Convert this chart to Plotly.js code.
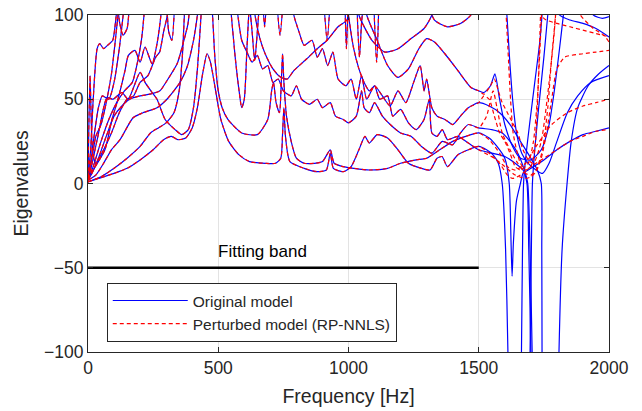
<!DOCTYPE html>
<html><head><meta charset="utf-8">
<script src="https://cdn.plot.ly/plotly-3.0.1.min.js"></script>
<style>html,body{margin:0;padding:0;background:#fff}#chart{width:642px;height:411px}</style>
</head><body><div id="chart"></div>
<script>
// ---- data: [frequency Hz, eigenvalue] pairs ----
const c1 = [[0,1],[40,3],[100,6],[150,9],[200,14],[250,20],[290,26],[320,28],[345,26],[375,27],[400,33],[420,45],[440,65],[457,77],[470,72],[490,55],[510,38],[540,25],[580,17],[620,13],[680,12],[720,12],[740,15],[747,30],[752,45],[758,28],[775,13],[830,9],[880,7],[915,8],[930,18],[942,9],[980,7],[1010,10],[1040,20],[1063,28],[1080,24],[1110,29],[1150,27],[1190,20],[1230,12],[1280,9],[1313,8],[1340,15],[1359,16],[1380,10],[1420,17],[1460,20],[1500,22]];
const c2 = [[0,3],[10,8],[38,28],[73,51],[96,50],[130,54],[154,50],[200,66],[219,60],[246,54],[265,50],[296,38],[334,32],[360,29],[385,32],[405,45],[420,68],[432,95],[440,115]];
const c3 = [[470,115],[478,100],[487,75],[500,55],[515,45],[537,38],[590,30],[650,29],[690,38],[705,55],[712,60],[722,48],[735,42],[742,60],[747,77],[752,60],[762,40],[780,25],[800,15],[830,12],[870,12],[900,13],[930,20],[945,12],[980,10],[1020,9],[1080,8],[1150,9],[1200,12],[1260,14],[1300,15],[1350,20],[1400,25],[1450,28],[1500,30]];
const c4 = [[540,115],[550,100],[565,75],[580,55],[590,45],[600,50],[610,80],[617,100],[625,115]];
const c5 = [[635,115],[641,100],[660,86],[680,77],[710,68],[740,63],[765,62],[790,67],[840,74],[880,80],[918,85],[960,93],[994,97],[1010,115]];
const c6 = [[0,3],[10,20],[20,50],[35,80],[45,83],[60,80],[75,82],[95,85],[105,95],[118,115]];
const c7 = [[0,3],[20,8],[65,20],[92,38],[115,50],[142,67],[155,76],[180,79],[200,72],[219,81],[246,71],[265,83],[280,100],[288,115]];
const c8 = [[0,3],[4,40],[8,64],[12,40],[18,18],[30,12],[60,20],[90,30],[120,42],[150,50],[175,52],[200,60],[230,64],[260,75],[275,78],[290,90],[305,100],[315,115]];
const c9 = [[0,2],[15,6],[40,15],[70,28],[100,40],[130,46],[160,50],[200,52],[238,53],[276,55],[303,61],[342,71],[365,83],[384,95],[395,115]];
const c10 = [[0,2],[30,5],[60,12],[90,20],[123,26],[173,39],[211,42],[265,45],[303,50],[353,60],[380,69],[405,85],[420,100],[430,115]];
const c11 = [[0,2],[10,12],[25,30],[40,45],[55,52],[80,50],[100,60],[120,80],[135,100],[145,115]];
const c12 = [[0,4],[15,15],[30,28],[50,35],[70,48],[90,65],[105,85],[115,100],[122,115]];
const c13 = [[108,115],[122,95],[135,88],[150,92],[162,115]];
const c14 = [[300,115],[310,90],[322,85],[335,115]];
const c15 = [[0,2],[20,10],[50,25],[80,38],[110,48],[140,55],[170,60],[190,72],[205,85],[215,100],[222,115]];
const c16 = [[0,1],[50,4],[100,9],[150,15],[200,22],[240,30],[270,33],[300,36],[330,42],[350,55],[362,75],[370,100],[375,115]];
const d1 = [[615,115],[630,90],[640,73],[650,90],[662,115]];
const d2 = [[668,115],[678,93],[688,115]];
const d3 = [[722,115],[737,88],[752,115]];
const d4 = [[902,115],[918,85],[932,115]];
const d5 = [[985,115],[992,80],[1000,115]];
const d6 = [[1030,115],[1042,75],[1050,95],[1062,115]];
const d7 = [[1095,115],[1108,72],[1118,115]];
const m1 = [[560,115],[575,100],[590,85],[610,78],[630,72],[650,76],[670,68],[690,70],[710,60],[730,62],[750,55],[780,52],[800,58],[820,50],[850,47],[880,50],[900,45],[930,48],[950,40],[980,38],[1000,36],[1030,40],[1050,55],[1060,45],[1080,42],[1100,48],[1130,40],[1160,35],[1200,30],[1240,28],[1280,22],[1320,18],[1360,25],[1400,23],[1430,30],[1460,35],[1500,33]];
const m2 = [[780,115],[790,100],[810,90],[830,82],[860,85],[880,75],[900,80],[920,70],[940,78],[960,62],[990,58],[1010,62],[1030,50],[1050,64],[1070,50],[1100,58],[1130,52],[1160,46],[1190,55],[1220,48],[1250,60],[1275,70],[1290,55],[1300,62],[1320,45],[1340,40],[1370,38],[1400,35],[1430,40],[1460,45],[1500,48]];
const m3 = [[990,115],[1000,100],[1020,80],[1040,68],[1060,60],[1080,55],[1100,58],[1120,50],[1150,52],[1170,40],[1200,44],[1230,36],[1260,32],[1290,38],[1310,50],[1320,30],[1340,28],[1360,32],[1380,26],[1420,28],[1460,24],[1500,20]];
const uA = [[1030,115],[1040,100],[1090,85],[1140,78],[1190,80],[1240,86],[1290,92],[1320,100],[1335,115]];
const uB = [[1060,115],[1070,100],[1110,85],[1150,70],[1190,63],[1230,68],[1270,80],[1300,86],[1330,84],[1370,77],[1420,67],[1470,57],[1500,55]];
const arc = [[1290,115],[1330,97],[1380,93],[1430,95],[1470,100],[1490,115]];

// tails above the fitting band: original model (blue)
const c1Orig = [[1530,20],[1555,17],[1575,12],[1590,0],[1603,-39],[1612,-100],[1615,-130]];
const c3Orig = [[1540,27],[1570,22],[1600,15],[1617,0],[1624,-35],[1628,-55],[1633,-35],[1645,-10],[1660,0],[1670,6],[1690,8],[1710,10],[1750,14],[1800,20],[1850,25],[1900,29],[1950,31],[2000,33]];
const m1Orig = [[1550,32],[1590,30],[1620,25],[1650,18],[1675,8],[1688,0],[1697,-39],[1705,-100],[1708,-130]];
const m2Orig = [[1540,46],[1580,42],[1620,35],[1660,25],[1700,15],[1725,8],[1740,0],[1742,-39],[1743,-100],[1744,-130]];
const m3Orig = [[1550,18],[1600,16],[1640,12],[1670,8],[1685,0],[1692,-39],[1700,-100],[1702,-130]];
const uBOrig = [[1520,54],[1545,58],[1562,65],[1580,50],[1600,35],[1630,22],[1660,15],[1700,14],[1740,20],[1770,35],[1790,55],[1810,80],[1825,100],[1835,115]];
const origL2 = [[1662,-130],[1664,-100],[1668,-39],[1672,0],[1680,15],[1695,35],[1715,60],[1735,85],[1750,115]];
const origL3 = [[1695,-130],[1697,-100],[1702,-39],[1706,0],[1715,20],[1730,45],[1750,75],[1765,100],[1775,115]];
const origL5 = [[1805,-130],[1808,-100],[1820,-39],[1839,0],[1855,25],[1880,45],[1920,58],[1960,65],[2000,70]];
const origT1 = [[1600,115],[1608,100],[1618,75],[1630,50],[1645,30],[1665,18],[1690,12],[1720,8],[1745,6],[1770,12],[1800,25],[1840,42],[1880,52],[1930,60],[2000,64]];
const origTop1 = [[1790,115],[1810,100],[1850,97],[1900,95],[1950,92],[2000,87]];
const origTop2 = [[1900,115],[1940,100],[1975,98],[2000,99]];

// tails above the fitting band: perturbed model (red)
const c1Pert = [[1540,18],[1580,12],[1610,5],[1630,3],[1660,5],[1700,10],[1750,15],[1800,20],[1850,25],[1900,28],[1950,31],[2000,32]];
const c3Pert = [[1540,26],[1580,18],[1610,10],[1640,8],[1680,12],[1720,22],[1780,35],[1840,42],[1900,46],[1950,48],[2000,50]];
const m1Pert = [[1530,40],[1555,55],[1570,45],[1590,30],[1620,20],[1650,12],[1680,6],[1700,5],[1720,8],[1745,20],[1765,45],[1780,75],[1795,100],[1800,115]];
const m2Pert = [[1520,52],[1540,50],[1560,40],[1580,30],[1600,25],[1620,18],[1640,10],[1660,8],[1690,12],[1710,25],[1725,50],[1735,80],[1745,115]];
const m3Pert = [[1560,15],[1600,10],[1640,5],[1680,3],[1700,4],[1720,7],[1740,15],[1760,30],[1780,50],[1800,68],[1830,75],[1900,77],[1950,78],[2000,79]];
const uBPert = [[1520,53],[1545,58],[1560,62],[1575,55],[1590,48],[1610,42],[1630,36],[1650,30],[1670,20],[1690,14],[1710,12],[1740,25],[1770,60],[1790,90],[1800,115]];
const pertV2 = [[1600,115],[1612,80],[1622,50],[1632,30],[1645,20],[1660,12],[1680,8],[1700,10],[1715,20],[1725,45],[1733,80],[1740,115]];
const pertTop1 = [[1730,115],[1750,98],[1800,95],[1850,93],[1900,91],[1950,89],[2000,87]];
const pertTop2 = [[1850,115],[1890,100],[1940,92],[1980,88],[2000,84]];

const bandX = [0, 1500];
const bandY = [-50, -50];
const xTicks = [0, 500, 1000, 1500, 2000];
const yTicks = [-100, -50, 0, 50, 100];

// ---- build ----
const shared = [
  [c1, c1Orig, c1Pert], [c2], [c3, c3Orig, c3Pert], [c4], [c5], [c6], [c7], [c8], [c9], [c10], [c11], [c12], [c13], [c14], [c15], [c16],
  [d1], [d2], [d3], [d4], [d5], [d6], [d7],
  [m1, m1Orig, m1Pert], [m2, m2Orig, m2Pert], [m3, m3Orig, m3Pert], [uA], [uB, uBOrig, uBPert], [arc]
];
const origOnly = [origL2, origL3, origL5, origT1, origTop1, origTop2];
const pertOnly = [pertV2, pertTop1, pertTop2];

const BLUE = '#0000ff', RED = '#ff0000';
function mk(pts, color, dash, name, show) {
  return {
    type: 'scatter', mode: 'lines',
    x: pts.map(p => p[0]), y: pts.map(p => p[1]),
    line: {color: color, width: 1.2, dash: dash, shape: 'spline', smoothing: 0.6},
    name: name, legendgroup: name, showlegend: show, hoverinfo: 'skip'
  };
}
const traces = [];
let first = true;
shared.forEach(s => {
  const pts = s[0].concat(s[1] || []);
  traces.push(mk(pts, BLUE, 'solid', 'Original model', first));
  first = false;
});
origOnly.forEach(p => traces.push(mk(p, BLUE, 'solid', 'Original model', false)));
first = true;
shared.forEach(s => {
  const pts = s[0].concat(s[2] || []);
  traces.push(mk(pts, RED, '4px,3px', 'Perturbed model (RP-NNLS)', first));
  first = false;
});
pertOnly.forEach(p => traces.push(mk(p, RED, '4px,3px', 'Perturbed model (RP-NNLS)', false)));
traces.push({type: 'scatter', mode: 'lines', x: bandX, y: bandY,
  line: {color: '#000', width: 2.5}, showlegend: false, hoverinfo: 'skip'});

const axCol = '#262626';
const layout = {
  width: 642, height: 411,
  margin: {l: 88, r: 33, t: 15, b: 59},
  paper_bgcolor: '#fff', plot_bgcolor: '#fff',
  font: {family: 'Liberation Sans, Arial, sans-serif', color: axCol, size: 16},
  showlegend: true,
  legend: {x: 0.036, y: 0.205, xanchor: 'left', yanchor: 'top', bgcolor: '#fff',
    bordercolor: axCol, borderwidth: 1, itemwidth: 75, font: {size: 15.5, color: axCol},
    tracegroupgap: 0},
  xaxis: {range: [0, 2000], tickvals: xTicks, ticks: 'inside', ticklen: 5, tickcolor: axCol,
    showline: true, mirror: 'ticks', linecolor: axCol, linewidth: 1,
    showgrid: true, gridcolor: '#e3e3e3', zeroline: false,
    tickfont: {size: 17.5, color: axCol},
    title: {text: 'Frequency [Hz]', font: {size: 19.5, color: axCol}, standoff: 12}},
  yaxis: {range: [-100, 100], tickvals: yTicks, ticks: 'inside', ticklen: 5, tickcolor: axCol,
    showline: true, mirror: 'ticks', linecolor: axCol, linewidth: 1,
    showgrid: true, gridcolor: '#e3e3e3', zeroline: false,
    tickfont: {size: 17.5, color: axCol},
    title: {text: 'Eigenvalues', font: {size: 19.5, color: axCol}, standoff: 10}},
  annotations: [{x: 668, y: -40.5, xref: 'x', yref: 'y', text: 'Fitting band', showarrow: false,
    font: {size: 17, color: '#000'}}]
};
Plotly.newPlot('chart', traces, layout, {staticPlot: true});
</script></body></html>
